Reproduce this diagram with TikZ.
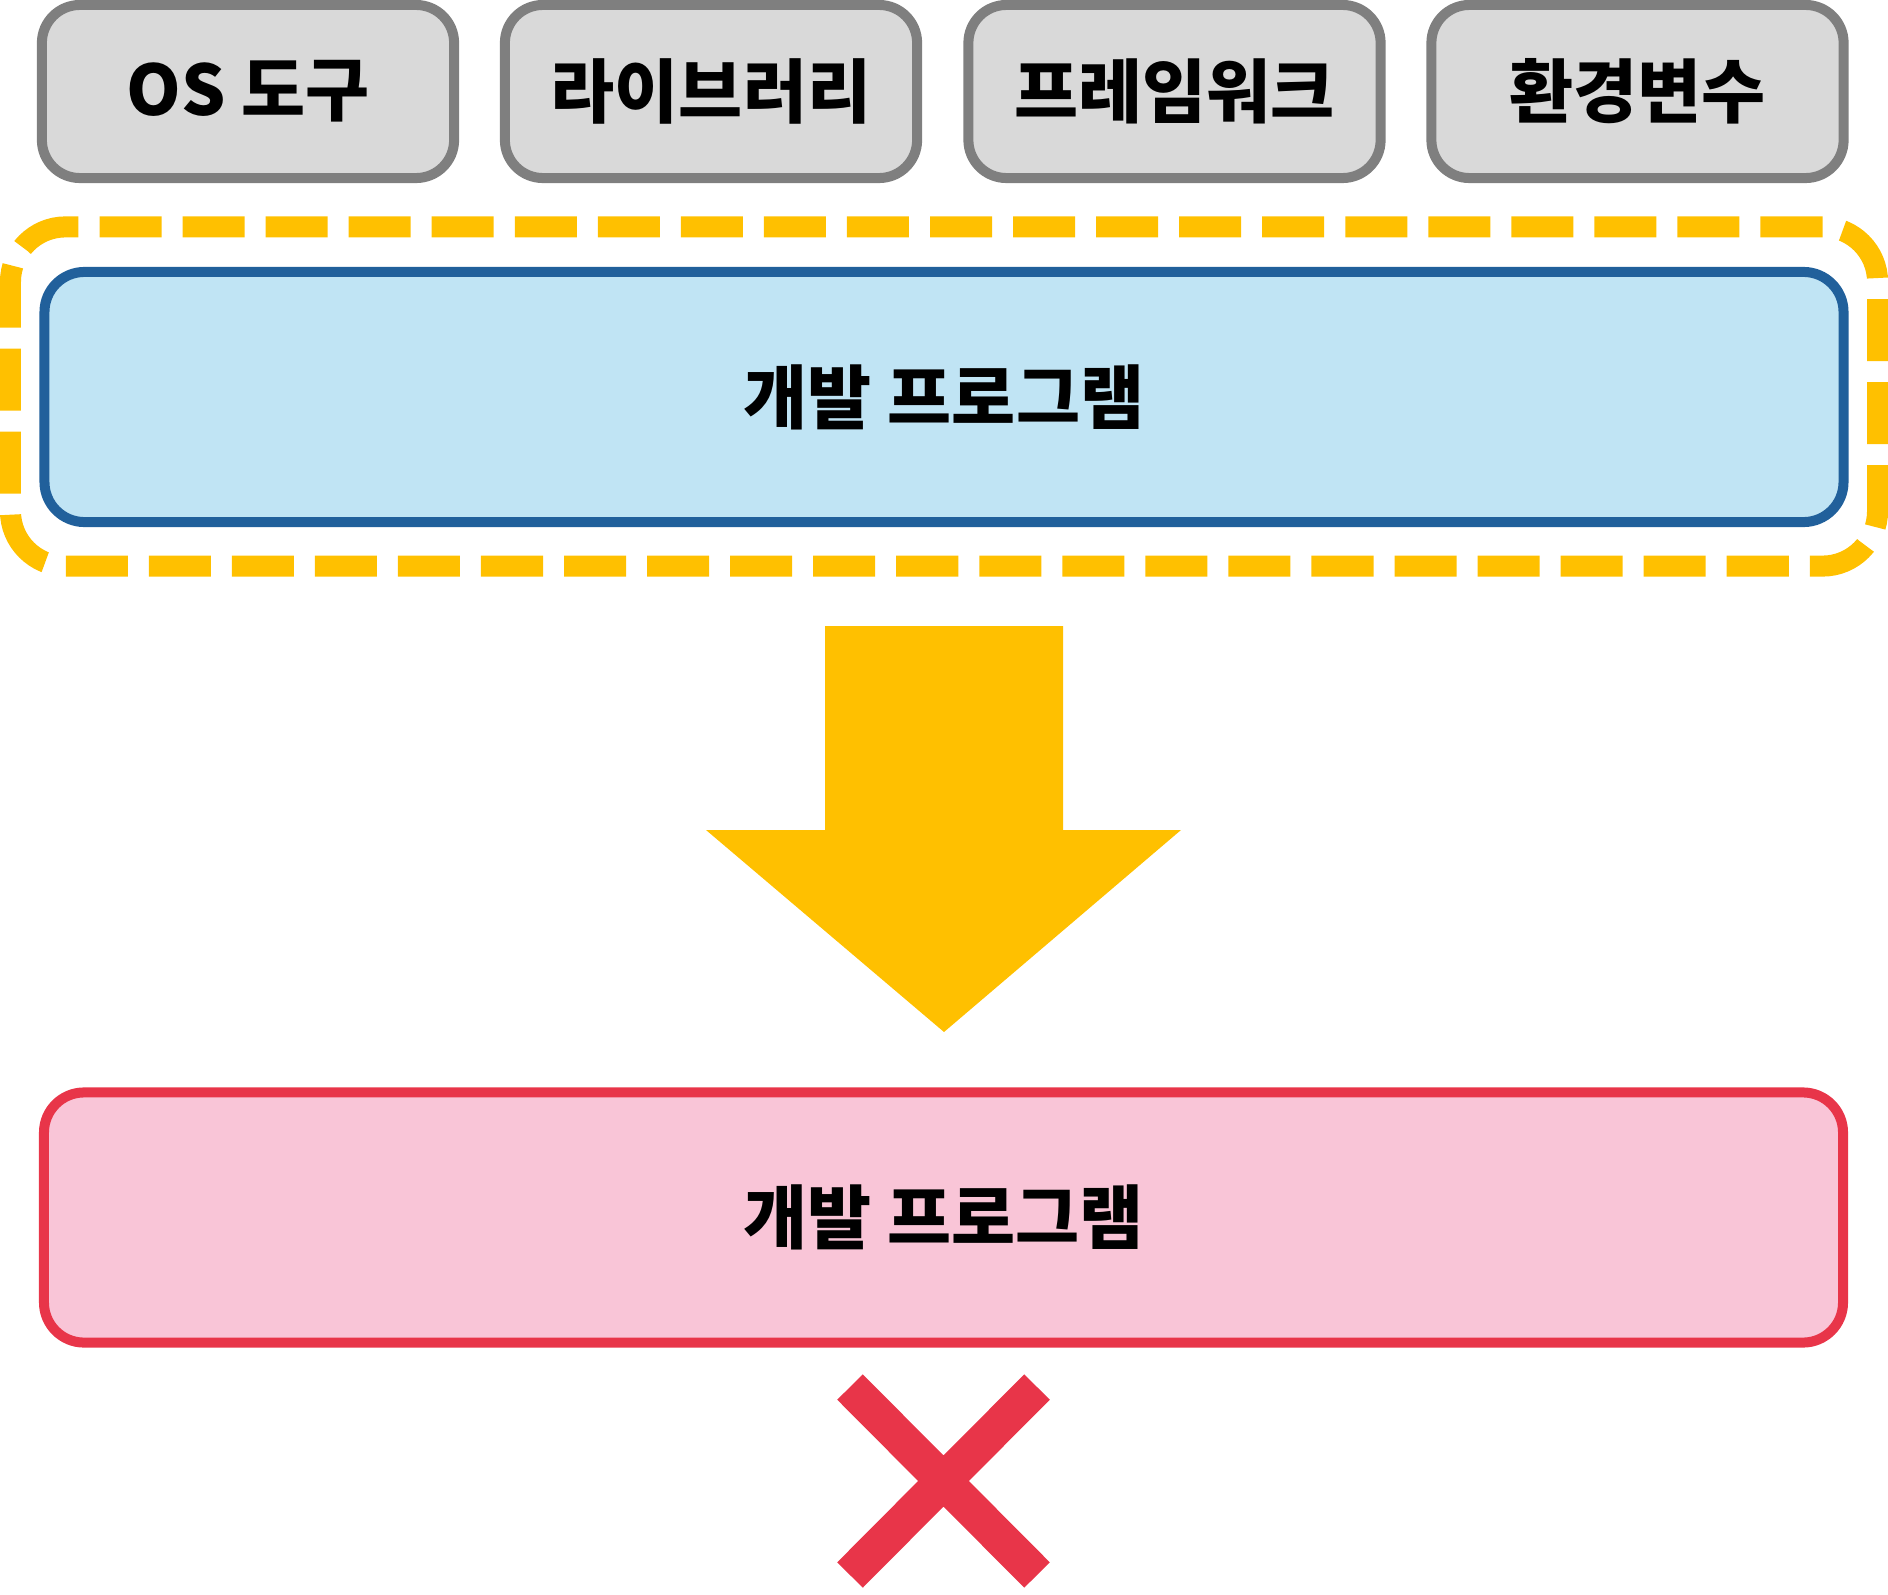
\documentclass[tikz,border=0pt]{standalone}
\usepackage{fontspec}
\setmainfont{Noto Sans CJK KR}
\usetikzlibrary{positioning}

\definecolor{werkzeuggrau}{HTML}{D9D9D9}
\definecolor{randgrau}{HTML}{7F7F7F}
\definecolor{progblau}{HTML}{C0E4F4}
\definecolor{randblau}{HTML}{21609B}
\definecolor{progrosa}{HTML}{F9C5D7}
\definecolor{randrot}{HTML}{E83549}
\definecolor{gelb}{HTML}{FFC000}

\begin{document}
\begin{tikzpicture}[%show background rectangle,
    x=0.01cm, y=-0.01cm,
    font=\bfseries\fontsize{19.8}{23}\selectfont,
    werkzeug/.style={draw=randgrau, fill=werkzeuggrau, line width=0.1cm,
        rounded corners=0.38cm, minimum width=4.12cm, minimum height=1.73cm},
    programm/.style={line width=0.1cm, rounded corners=0.4cm,
        minimum width=17.98cm, minimum height=2.5cm},
    rahmen/.style={draw=gelb, line width=0.21cm, dash pattern=on 0.62cm off 0.21cm,
        rounded corners=0.55cm, minimum width=18.66cm, minimum height=3.39cm},
    pfeil/.style={fill=gelb},
    kreuz/.style={draw=randrot, line width=0.36cm}
    ]
        \useasboundingbox (0,0) rectangle (1888,1594);

        % Werkzeuge oben
        \node (os)  [werkzeug] at (248,91.5)    {OS 도구};
        \node (lib) [werkzeug] at (711,91.5)    {라이브러리};
        \node (fw)  [werkzeug] at (1174.5,91.5) {프레임워크};
        \node (env) [werkzeug] at (1637.5,91.5) {환경변수};

        % Programm mit Umgebung
        \node (rahmen) [rahmen] at (944,396.5) {};
        \node (prog)   [programm, draw=randblau, fill=progblau] at (944,397) {개발 프로그램};

        % Pfeil
        \fill [pfeil]   (825,626) -- (1063,626) -- (1063,830) -- (1181,830)
                        -- (944,1032) -- (706,830) -- (825,830) -- cycle;

        % Programm allein
        \node (nackt) [programm, draw=randrot, fill=progrosa] at (943.5,1217.5) {개발 프로그램};

        % Kreuz
        \coordinate (k1) at (850,1387);
        \coordinate (k2) at (1037,1575);
        \coordinate (k3) at (1037,1387);
        \coordinate (k4) at (850,1575);
        \draw [kreuz]   (k1) -- (k2)
                        (k3) -- (k4);
    \end{tikzpicture}
\end{document}
